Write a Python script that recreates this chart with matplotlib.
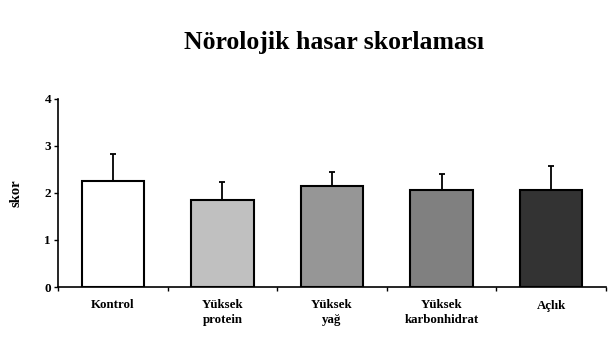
import matplotlib
matplotlib.use("Agg")
import matplotlib.pyplot as plt
import numpy as np

categories = ["Kontrol", "Yüksek\nprotein", "Yüksek\nyağ", "Yüksek\nkarbonhidrat", "Açlık"]
means = [2.25, 1.86, 2.15, 2.07, 2.07]
errors = [0.58, 0.37, 0.30, 0.33, 0.50]
colors = ["#ffffff", "#c0c0c0", "#969696", "#808080", "#333333"]

plt.rcParams['font.family'] = ['Liberation Serif', 'DejaVu Serif']

fig = plt.figure(figsize=(6.12, 3.37), dpi=100)
ax = fig.add_axes([58/612, 1 - 287/337, (606-58)/612, (287-99)/337])

x = np.arange(len(categories))
ax.bar(x, means, width=0.57, color=colors, edgecolor="black", linewidth=1.5, zorder=2)
ax.errorbar(x, means, yerr=[np.zeros(len(errors)), errors], fmt="none",
            ecolor="black", elinewidth=1.3, capsize=2.5, capthick=1.3, zorder=1)

ax.set_xlim(-0.5, len(categories) - 0.5)
ax.set_ylim(0, 4)
ax.set_yticks([0, 1, 2, 3, 4])
ax.set_yticklabels(["0", "1", "2", "3", "4"], fontweight="bold", fontsize=9.5)

ax.set_xticks(x)
ax.set_xticklabels(categories, fontweight="bold", fontsize=9.3, linespacing=1.3)
ax.tick_params(axis="x", which="major", length=0, pad=9)
ax.set_xticks(np.arange(-0.5, len(categories) + 0.5, 1), minor=True)
ax.tick_params(axis="x", which="minor", length=3, width=1, direction="out")
ax.tick_params(axis="y", length=3, width=1, pad=2)

for s in ["top", "right"]:
    ax.spines[s].set_visible(False)
for s in ["left", "bottom"]:
    ax.spines[s].set_linewidth(1.2)

ax.set_ylabel("skor", fontweight="bold", fontsize=10.5, labelpad=16)
fig.text(334/612, 1 - 42/337, "Nörolojik hasar skorlaması", ha="center", va="center",
         fontsize=18.5, fontweight="bold")

fig.savefig("out.png", dpi=100)
